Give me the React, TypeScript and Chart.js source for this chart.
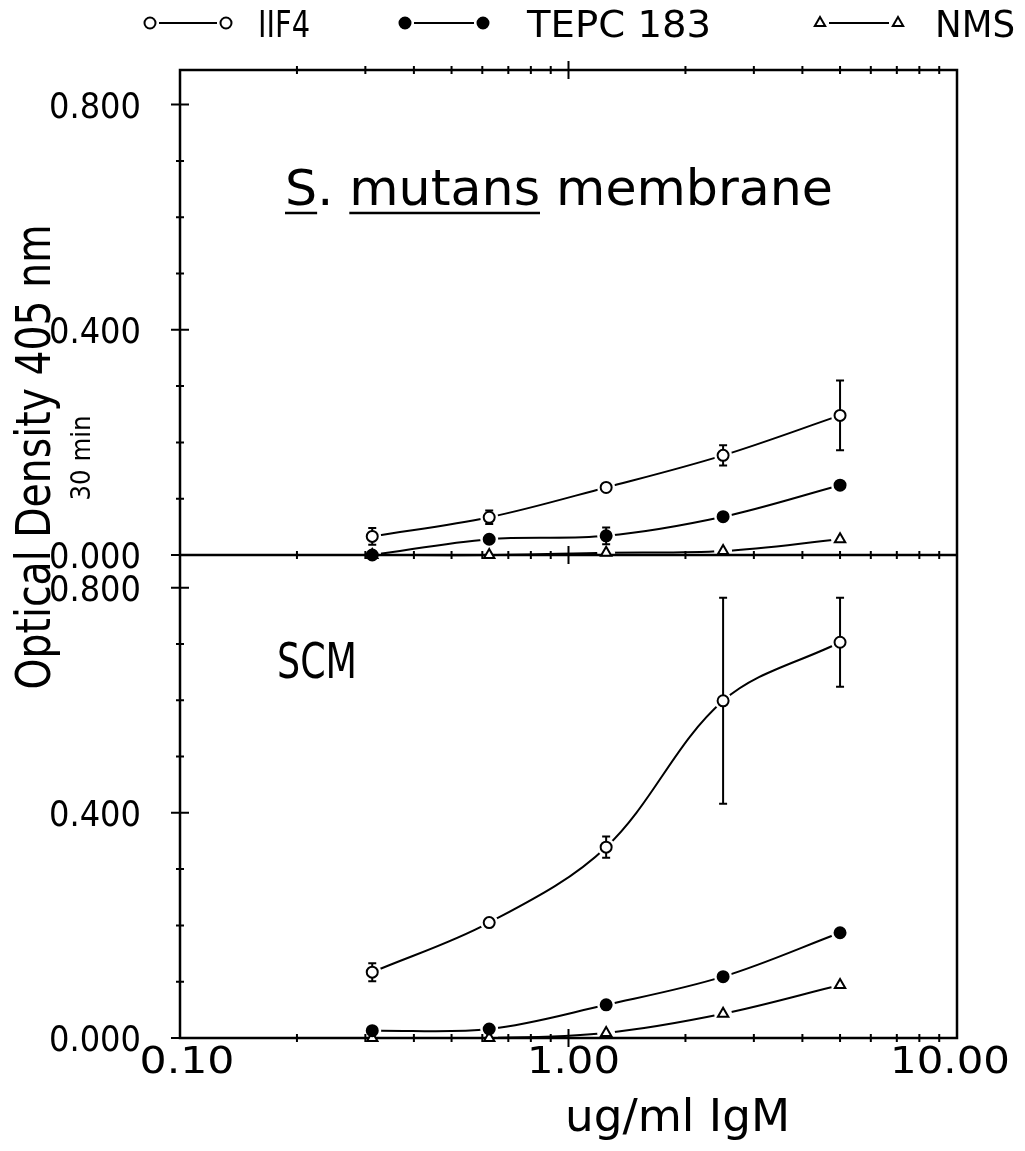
import React, { useEffect, useRef } from 'react';
import { Chart, registerables } from 'chart.js';

Chart.register(...registerables);

// ---------- data ----------
const concentrations = [0.3125, 0.625, 1.25, 2.5, 5];
const seriesNames = ['IIF4', 'TEPC 183', 'NMS'];

const membraneIIF4 = [0.033, 0.067, 0.12, 0.177, 0.248];
const membraneIIF4Err = [0.015, 0.012, 0, 0.018, 0.062];
const membraneTEPC = [0.0, 0.028, 0.034, 0.068, 0.124];
const membraneTEPCErr = [0, 0, 0.015, 0, 0];
const membraneNMS = [0.0, 0.0, 0.004, 0.007, 0.028];

const scmIIF4 = [0.117, 0.205, 0.339, 0.599, 0.703];
const scmIIF4Err = [0.016, 0, 0.019, 0.183, 0.079];
const scmTEPC = [0.013, 0.016, 0.059, 0.109, 0.187];
const scmNMS = [0.0, 0.0, 0.009, 0.043, 0.094];

const xTickValues = [0.1, 1, 10];
const xTickLabels = ['0.10', '1.00', '10.00'];
const yTickValues = [0, 0.4, 0.8];
const yTickLabels = ['0.000', '0.400', '0.800'];

const panelTitleTop = 'membrane';
const yTitle = 'Optical Density 405 nm';
const ySubTitle = '30 min';
const xTitle = 'ug/ml IgM';

// ---------- styling ----------
const FAMILY = '"DejaVu Sans", "Liberation Sans", sans-serif';
const WEIGHT = '400';
const GAP = 9;

const markerStyles = [
  { pointStyle: 'circle', bg: '#ffffff', radius: 5.5 },
  { pointStyle: 'circle', bg: '#000000', radius: 5.5 },
  { pointStyle: 'triangle', bg: '#ffffff', radius: 6 },
];

function makeDataset(label: string, values: number[], yAxisID: string, styleIdx: number, errors: number[] | null) {
  const m = markerStyles[styleIdx];
  return {
    label,
    data: concentrations.map((x, i) => ({ x, y: values[i] })),
    xAxisID: 'x',
    yAxisID,
    borderColor: '#000',
    borderWidth: 2,
    tension: 0.35,
    fill: false,
    clip: false,
    pointStyle: m.pointStyle,
    pointRadius: m.radius,
    pointBackgroundColor: m.bg,
    pointBorderColor: '#000',
    pointBorderWidth: 2,
    errors,
  } as any;
}

function fitText(ctx: CanvasRenderingContext2D, text: string, x: number, y: number, size: number, width: number, align: CanvasTextAlign, rotate = 0) {
  ctx.save();
  ctx.translate(x, y);
  if (rotate) ctx.rotate(rotate);
  ctx.font = `${WEIGHT} ${size}px ${FAMILY}`;
  const w = ctx.measureText(text).width;
  const sx = width / w;
  ctx.scale(sx, 1);
  ctx.textAlign = align;
  ctx.textBaseline = 'alphabetic';
  ctx.fillStyle = '#000';
  ctx.fillText(text, 0, 0);
  ctx.restore();
  return sx;
}

function drawMarker(ctx: CanvasRenderingContext2D, styleIdx: number, x: number, y: number) {
  const m = markerStyles[styleIdx];
  ctx.save();
  ctx.beginPath();
  if (m.pointStyle === 'circle') {
    ctx.arc(x, y, m.radius, 0, Math.PI * 2);
  } else {
    let rad = 0;
    ctx.moveTo(x + Math.sin(rad) * m.radius, y - Math.cos(rad) * m.radius);
    rad += (2 * Math.PI) / 3;
    ctx.lineTo(x + Math.sin(rad) * m.radius, y - Math.cos(rad) * m.radius);
    rad += (2 * Math.PI) / 3;
    ctx.lineTo(x + Math.sin(rad) * m.radius, y - Math.cos(rad) * m.radius);
    ctx.closePath();
  }
  ctx.fillStyle = m.bg;
  ctx.fill();
  ctx.lineWidth = 2;
  ctx.strokeStyle = '#000';
  ctx.stroke();
  ctx.restore();
}

const legendLayout = [
  { x1: 150, x2: 226, textX: 258, textW: 52 },
  { x1: 405, x2: 483, textX: 527, textW: 184 },
  { x1: 820, x2: 898, textX: 935, textW: 80 },
];

const overlay = {
  id: 'overlay',
  beforeDraw(chart: any) {
    const ctx = chart.ctx;
    ctx.save();
    ctx.fillStyle = '#fff';
    ctx.fillRect(0, 0, chart.width, chart.height);
    ctx.restore();
  },
  beforeDatasetsDraw(chart: any) {
    const ctx: CanvasRenderingContext2D = chart.ctx;
    const xs = chart.scales.x;
    const yT = chart.scales.yMem;
    const yB = chart.scales.yScm;
    const L = xs.left, R = xs.right, T = yT.top, M = yT.bottom, B = yB.bottom;
    ctx.save();
    ctx.strokeStyle = '#000';
    ctx.lineWidth = 2.5;
    ctx.beginPath();
    ctx.moveTo(L, T);
    ctx.lineTo(R, T);
    ctx.lineTo(R, B);
    ctx.lineTo(L, B);
    ctx.closePath();
    ctx.moveTo(L, M);
    ctx.lineTo(R, M);
    ctx.stroke();

    ctx.lineWidth = 2;
    ctx.beginPath();
    for (const dec of [0.1, 1]) {
      for (let k = 1; k <= 9; k++) {
        const v = dec * k;
        if (v <= 0.1 + 1e-9) continue;
        const px = xs.getPixelForValue(v);
        const h = k === 1 ? 9 : 4;
        for (const yy of [T, M, B]) {
          ctx.moveTo(px, yy - h);
          ctx.lineTo(px, yy + h);
        }
      }
    }
    for (const sc of [yT, yB]) {
      for (let j = 0; j <= 8; j++) {
        const py = sc.getPixelForValue(j / 10);
        const h = j % 4 === 0 ? 9 : 4;
        ctx.moveTo(L - h, py);
        ctx.lineTo(L + h, py);
      }
    }
    ctx.stroke();
    ctx.restore();
  },
  beforeDatasetDraw(chart: any, args: any) {
    const ctx: CanvasRenderingContext2D = chart.ctx;
    ctx.save();
    ctx.beginPath();
    ctx.rect(0, 0, chart.width, chart.height);
    for (const p of args.meta.data) {
      ctx.moveTo(p.x + GAP, p.y);
      ctx.arc(p.x, p.y, GAP, 0, Math.PI * 2);
    }
    ctx.clip('evenodd');
  },
  afterDatasetDraw(chart: any, args: any) {
    const ctx: CanvasRenderingContext2D = chart.ctx;
    ctx.restore();
    const ds = chart.data.datasets[args.index];
    const meta = args.meta;
    const scale = chart.scales[ds.yAxisID];
    if (ds.errors) {
      ctx.save();
      ctx.strokeStyle = '#000';
      ctx.lineWidth = 2;
      ctx.beginPath();
      ds.errors.forEach((e: number, i: number) => {
        if (!e) return;
        const p = meta.data[i];
        const v = ds.data[i].y;
        const yt = scale.getPixelForValue(v + e);
        const yb = scale.getPixelForValue(v - e);
        ctx.moveTo(p.x, yt);
        ctx.lineTo(p.x, yb);
        ctx.moveTo(p.x - 4, yt);
        ctx.lineTo(p.x + 4, yt);
        ctx.moveTo(p.x - 4, yb);
        ctx.lineTo(p.x + 4, yb);
      });
      ctx.stroke();
      ctx.restore();
    }
    for (const p of meta.data) p.draw(ctx, chart.chartArea);
  },
  afterDraw(chart: any) {
    const ctx: CanvasRenderingContext2D = chart.ctx;
    const xs = chart.scales.x;
    const yT = chart.scales.yMem;
    const yB = chart.scales.yScm;

    // y tick labels
    for (const sc of [yT, yB]) {
      yTickValues.forEach((v, i) => {
        const py = sc.getPixelForValue(v);
        fitText(ctx, yTickLabels[i], 141, py + 13, 36, 92, 'right');
      });
    }
    // x tick labels
    const xOff = [7, 5, -7];
    const xW = [95, 93, 120];
    xTickValues.forEach((v, i) => {
      const px = xs.getPixelForValue(v);
      fitText(ctx, xTickLabels[i], px + xOff[i], 1073, 37, xW[i], 'center');
    });
    // axis titles
    fitText(ctx, xTitle, 565, 1131, 45, 225, 'left');
    fitText(ctx, yTitle, 50, 457, 48, 465, 'center', -Math.PI / 2);
    fitText(ctx, ySubTitle, 90, 458, 27, 85, 'center', -Math.PI / 2);

    // panel titles
    {
      const size = 50;
      const full = 'S. mutans ' + panelTitleTop;
      ctx.save();
      ctx.font = `${WEIGHT} ${size}px ${FAMILY}`;
      const w = ctx.measureText(full).width;
      const sx = 548 / w;
      const wS = ctx.measureText('S').width * sx;
      const wPre = ctx.measureText('S. ').width * sx;
      const wMut = ctx.measureText('mutans').width * sx;
      ctx.restore();
      fitText(ctx, full, 285, 205, size, 548, 'left');
      ctx.save();
      ctx.strokeStyle = '#000';
      ctx.lineWidth = 2.5;
      ctx.beginPath();
      ctx.moveTo(285, 213);
      ctx.lineTo(285 + wS, 213);
      ctx.moveTo(285 + wPre, 213);
      ctx.lineTo(285 + wPre + wMut, 213);
      ctx.stroke();
      ctx.restore();
    }
    fitText(ctx, 'SCM', 277, 678, 50, 80, 'left');

    // legend
    seriesNames.forEach((name, i) => {
      const lg = legendLayout[i];
      const y = 23;
      ctx.save();
      ctx.strokeStyle = '#000';
      ctx.lineWidth = 2;
      ctx.beginPath();
      ctx.moveTo(lg.x1 + GAP, y);
      ctx.lineTo(lg.x2 - GAP, y);
      ctx.stroke();
      ctx.restore();
      drawMarker(ctx, i, lg.x1, y);
      drawMarker(ctx, i, lg.x2, y);
      fitText(ctx, name, lg.textX, 37, 38, lg.textW, 'left');
    });
  },
};

export default function App() {
  const ref = useRef<HTMLCanvasElement>(null);
  useEffect(() => {
    const canvas = ref.current!;
    const chart = new Chart(canvas, {
      type: 'line',
      data: {
        datasets: [
          makeDataset(seriesNames[0], membraneIIF4, 'yMem', 0, membraneIIF4Err),
          makeDataset(seriesNames[1], membraneTEPC, 'yMem', 1, membraneTEPCErr),
          makeDataset(seriesNames[2], membraneNMS, 'yMem', 2, null),
          makeDataset(seriesNames[0], scmIIF4, 'yScm', 0, scmIIF4Err),
          makeDataset(seriesNames[1], scmTEPC, 'yScm', 1, null),
          makeDataset(seriesNames[2], scmNMS, 'yScm', 2, null),
        ],
      },
      options: {
        responsive: false,
        animation: false,
        devicePixelRatio: 1,
        events: [],
        layout: { padding: { left: 180, right: 68, top: 70, bottom: 113 } },
        plugins: { legend: { display: false }, tooltip: { enabled: false } },
        scales: {
          x: { type: 'logarithmic', min: 0.1, max: 10, display: false },
          yScm: { type: 'linear', position: 'left', min: 0, max: 0.858, display: false, stack: 'panels', stackWeight: 483 },
          yMem: { type: 'linear', position: 'left', min: 0, max: 0.8615, display: false, stack: 'panels', stackWeight: 485 },
        },
      } as any,
      plugins: [overlay as any],
    });
    return () => chart.destroy();
  }, []);
  return (
    <div style={{ position: 'fixed', left: 0, top: 0, width: 1025, height: 1151, background: '#fff' }}>
      <canvas ref={ref} width={1025} height={1151} style={{ display: 'block', width: 1025, height: 1151 }} />
    </div>
  );
}
